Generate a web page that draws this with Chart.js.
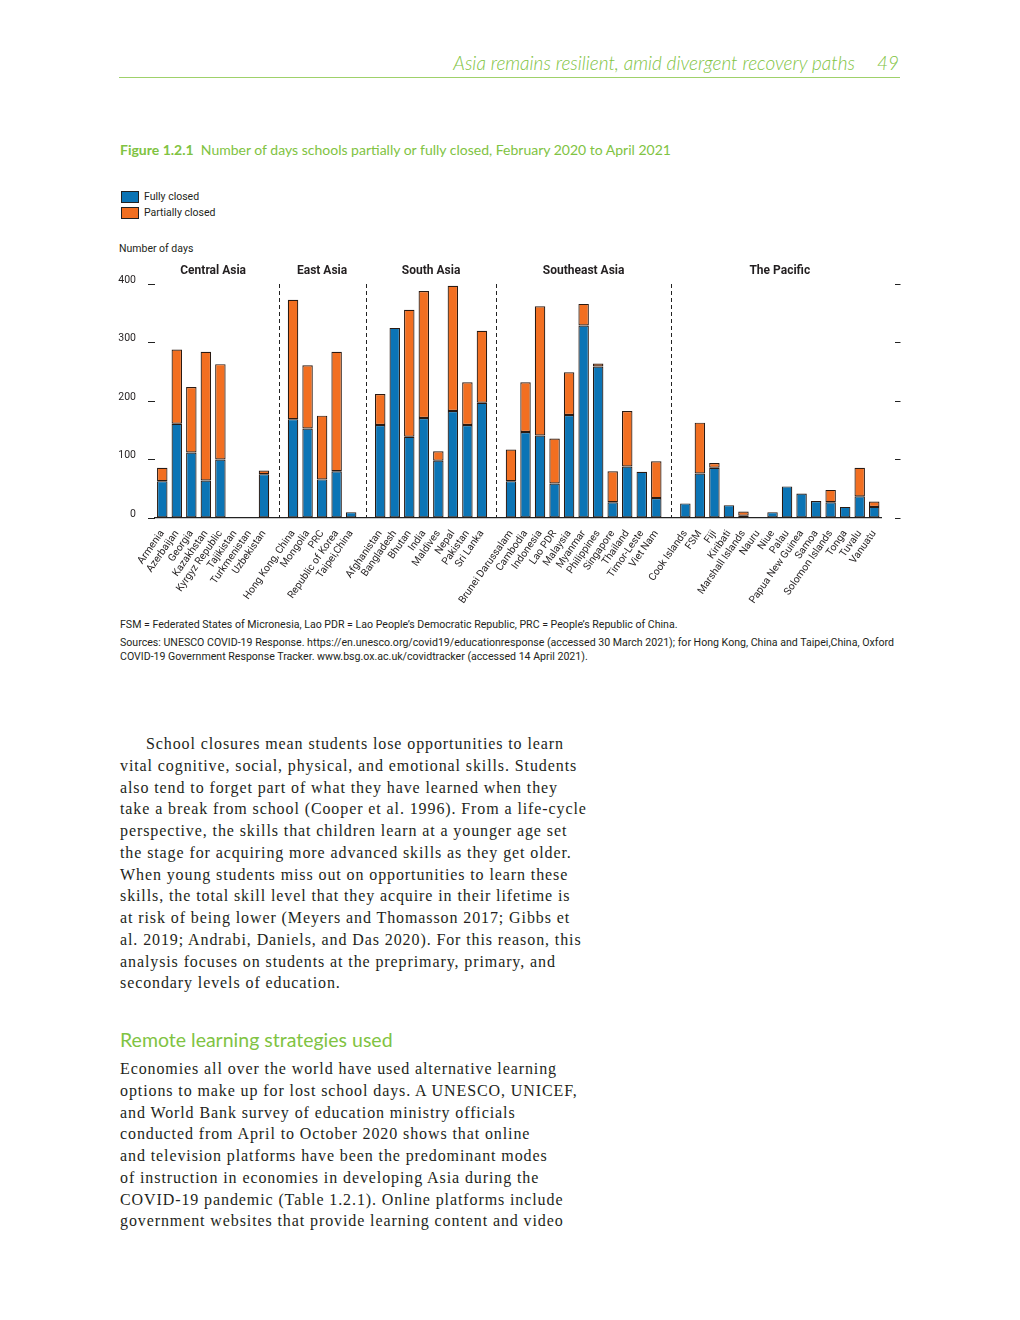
<!DOCTYPE html>
<html>
<head>
<meta charset="utf-8">
<script src="https://cdn.jsdelivr.net/npm/chart.js@4.4.1/dist/chart.umd.min.js"></script>
<style>
    body { margin: 0; background: #fff; width: 1020px; height: 1320px; position: relative; overflow: hidden; }
    .abs { position: absolute; white-space: nowrap; }
    .green { color: #80c342; }
    .head { right: 121px; top: 51px; font-family: Lato, 'Open Sans', sans-serif; font-style: italic; font-weight: 300; font-size: 19px; }
    .rule { left: 119px; top: 77px; width: 781px; height: 1px; background: #9fd16a; }
    .title { left: 120px; top: 141px; font-family: Lato, sans-serif; font-size: 14px; }
    .small { font-family: Roboto, 'Noto Sans', sans-serif; color: #231f20; }
    .sw { position: absolute; width: 16px; height: 10px; border: 1px solid #222; }
    .body { font-family: 'Liberation Serif', serif; font-size: 16px; color: #231f20; letter-spacing: 0.9px; line-height: 22px; }
    #wrap { position: absolute; left: 0; top: 255px; width: 1020px; height: 360px; }
</style>
</head>
<body>
<div class="abs green head">Asia remains resilient, amid divergent recovery paths<span style="margin-left:22px">49</span></div>
<div class="abs rule"></div>
<div class="abs green title"><b>Figure 1.2.1</b>&nbsp; Number of days schools partially or fully closed, February 2020 to April 2021</div>

<div class="sw" style="left:121px; top:191px; background:#0b74b5"></div>
<div class="abs small" style="left:144px; top:190px; font-size:10.5px">Fully closed</div>
<div class="sw" style="left:121px; top:207px; background:#f26f21"></div>
<div class="abs small" style="left:144px; top:206px; font-size:10.5px">Partially closed</div>
<div class="abs small" style="left:119px; top:242px; font-size:10.5px">Number of days</div>

<div id="wrap"><canvas id="chart"></canvas></div>

<div class="abs small" style="left:120px; top:618px; font-size:10.6px">FSM = Federated States of Micronesia, Lao PDR = Lao People’s Democratic Republic, PRC = People’s Republic of China.</div>
<div class="abs small" style="left:120px; top:636px; font-size:10.6px">Sources: UNESCO COVID-19 Response. https://en.unesco.org/covid19/educationresponse (accessed 30 March 2021); for Hong Kong, China and Taipei,China, Oxford</div>
<div class="abs small" style="left:120px; top:650px; font-size:10.6px">COVID-19 Government Response Tracker. www.bsg.ox.ac.uk/covidtracker (accessed 14 April 2021).</div>

<div id="text1"></div>
<div class="abs green" style="left:120px; top:1028px; font-family: Lato, sans-serif; font-size: 19.5px;">Remote learning strategies used</div>
<div id="text2"></div>

<script>
// Economies by region, in the order of the figure
const regions = ['Central Asia', 'East Asia', 'South Asia', 'Southeast Asia', 'The Pacific'];

const centralAsia = ['Armenia', 'Azerbaijan', 'Georgia', 'Kazakhstan', 'Kyrgyz Republic', 'Tajikistan', 'Turkmenistan', 'Uzbekistan'];
const centralFully = [63, 161, 112, 64, 100, 0, 0, 75];
const centralPartial = [23, 127, 112, 220, 163, 0, 0, 6];

const eastAsia = ['Hong Kong, China', 'Mongolia', 'PRC', 'Republic of Korea', 'Taipei,China'];
const eastFully = [169, 153, 66, 80, 10];
const eastPartial = [204, 108, 109, 204, 0];

const southAsia = ['Afghanistan', 'Bangladesh', 'Bhutan', 'India', 'Maldives', 'Nepal', 'Pakistan', 'Sri Lanka'];
const southFully = [159, 325, 139, 171, 98, 183, 159, 197];
const southPartial = [53, 0, 217, 217, 16, 214, 73, 123];

const southeastAsia = ['Brunei Darussalam', 'Cambodia', 'Indonesia', 'Lao PDR', 'Malaysia', 'Myanmar', 'Philippines', 'Singapore', 'Thailand', 'Timor-Leste', 'Viet Nam'];
const southeastFully = [63, 147, 141, 59, 176, 329, 259, 27, 88, 79, 34];
const southeastPartial = [54, 85, 221, 77, 73, 37, 5, 53, 95, 0, 63];

const pacific = ['Cook Islands', 'FSM', 'Fiji', 'Kiribati', 'Marshall Islands', 'Nauru', 'Niue', 'Palau', 'Papua New Guinea', 'Samoa', 'Solomon Islands', 'Tonga', 'Tuvalu', 'Vanuatu'];
const pacificFully = [25, 76, 86, 22, 4, 0, 10, 54, 42, 29, 27, 19, 37, 19];
const pacificPartial = [0, 87, 8, 0, 7, 0, 0, 0, 0, 0, 21, 0, 49, 9];

const yTicks = [0, 100, 200, 300, 400];

// Join the groups, with one empty slot between them (where the dashed line goes)
const groupNames = [centralAsia, eastAsia, southAsia, southeastAsia, pacific];
const groupFully = [centralFully, eastFully, southFully, southeastFully, pacificFully];
const groupPartial = [centralPartial, eastPartial, southPartial, southeastPartial, pacificPartial];

const labels = [], fully = [], partial = [], groupSpans = [], dividers = [];
groupNames.forEach((names, g) => {
    if (g > 0) {
        dividers.push(labels.length);
        labels.push('');
        fully.push(null);
        partial.push(null);
    }
    const start = labels.length;
    names.forEach((n, i) => {
        labels.push(n);
        fully.push(groupFully[g][i]);
        partial.push(groupPartial[g][i]);
    });
    groupSpans.push([start, labels.length - 1]);
});

const chartFont = "Roboto, 'Noto Sans', sans-serif";
const ink = '#231f20';

// dashed separators and region names
const groupsPlugin = {
    id: 'groups',
    afterDatasetsDraw(chart) {
        const ctx = chart.ctx, x = chart.scales.x, area = chart.chartArea;
        ctx.save();
        ctx.strokeStyle = '#222';
        ctx.lineWidth = 1;
        ctx.setLineDash([4, 3]);
        dividers.forEach(i => {
            const px = Math.round(x.getPixelForValue(i)) + 0.5;
            ctx.beginPath();
            ctx.moveTo(px, area.top);
            ctx.lineTo(px, area.bottom);
            ctx.stroke();
        });
        ctx.setLineDash([]);
        ctx.fillStyle = ink;
        ctx.font = "bold 12px " + chartFont;
        ctx.textAlign = 'center';
        ctx.textBaseline = 'middle';
        groupSpans.forEach((s, g) => {
            const cx = (x.getPixelForValue(s[0]) + x.getPixelForValue(s[1])) / 2;
            ctx.fillText(regions[g], cx, area.top - 13);
        });
        ctx.restore();
    }
};

const ctx = document.getElementById('chart').getContext('2d');
new Chart(ctx, {
    type: 'bar',
    data: {
        labels: labels,
        datasets: [{
            label: 'Fully closed',
            data: fully,
            backgroundColor: '#0b74b5',
            borderColor: '#2a1a12',
            borderWidth: 1.2,
            borderSkipped: false
        }, {
            label: 'Partially closed',
            data: partial,
            backgroundColor: '#f26f21',
            borderColor: '#2a1a12',
            borderWidth: 1.2,
            borderSkipped: false
        }]
    },
    options: {
        responsive: true,
        maintainAspectRatio: false,
        animation: false,
        datasets: { bar: { categoryPercentage: 1, barPercentage: 0.72 } },
        layout: { padding: { top: 29, left: 0, right: 0, bottom: 0 } },
        plugins: { legend: { display: false }, tooltip: { enabled: false } },
        scales: {
            x: {
                stacked: true,
                grid: { display: false },
                border: { display: true, color: '#222', width: 1.3 },
                ticks: {
                    autoSkip: false, maxRotation: 55, minRotation: 55, padding: 2,
                    color: ink, font: { family: chartFont, size: 10.3 }
                },
                afterFit(scale) { scale.height = 97; }
            },
            y: {
                stacked: true,
                min: 0, max: 400,
                afterBuildTicks(scale) { scale.ticks = yTicks.map(v => ({ value: v })); },
                border: { display: false },
                grid: {
                    drawOnChartArea: false, tickLength: 16, tickWidth: 1, tickColor: '#222',
                    tickBorderDash: [7, 9], tickBorderDashOffset: 7
                },
                ticks: { padding: 3, labelOffset: -4, color: ink, font: { family: chartFont, size: 10.5 } },
                afterFit(scale) { scale.width = 155; }
            },
            y2: {
                position: 'right',
                min: 0, max: 400,
                afterBuildTicks(scale) { scale.ticks = yTicks.map(v => ({ value: v })); },
                border: { display: false },
                grid: {
                    drawOnChartArea: false, tickLength: 19, tickWidth: 1, tickColor: '#222',
                    tickBorderDash: [6, 13], tickBorderDashOffset: 6
                },
                ticks: { display: false },
                afterFit(scale) { scale.width = 138.5; }
            }
        }
    },
    plugins: [groupsPlugin]
});

// body text, one line per entry as set on the page
const para1 = [
    'School closures mean students lose opportunities to learn',
    'vital cognitive, social, physical, and emotional skills. Students',
    'also tend to forget part of what they have learned when they',
    'take a break from school (Cooper et al. 1996). From a life-cycle',
    'perspective, the skills that children learn at a younger age set',
    'the stage for acquiring more advanced skills as they get older.',
    'When young students miss out on opportunities to learn these',
    'skills, the total skill level that they acquire in their lifetime is',
    'at risk of being lower (Meyers and Thomasson 2017; Gibbs et',
    'al. 2019; Andrabi, Daniels, and Das 2020). For this reason, this',
    'analysis focuses on students at the preprimary, primary, and',
    'secondary levels of education.'
];
const para2 = [
    'Economies all over the world have used alternative learning',
    'options to make up for lost school days. A UNESCO, UNICEF,',
    'and World Bank survey of education ministry officials',
    'conducted from April to October 2020 shows that online',
    'and television platforms have been the predominant modes',
    'of instruction in economies in developing Asia during the',
    'COVID-19 pandemic (Table 1.2.1). Online platforms include',
    'government websites that provide learning content and video'
];

function writeLines(id, lines, top, indent) {
    const box = document.getElementById(id);
    lines.forEach((t, i) => {
        const d = document.createElement('div');
        d.className = 'abs body';
        d.style.left = (120 + (i === 0 ? indent : 0)) + 'px';
        d.style.top = (top + i * 21.75) + 'px';
        d.textContent = t;
        box.appendChild(d);
    });
}
writeLines('text1', para1, 733, 26);
writeLines('text2', para2, 1058, 0);
</script>
</body>
</html>
